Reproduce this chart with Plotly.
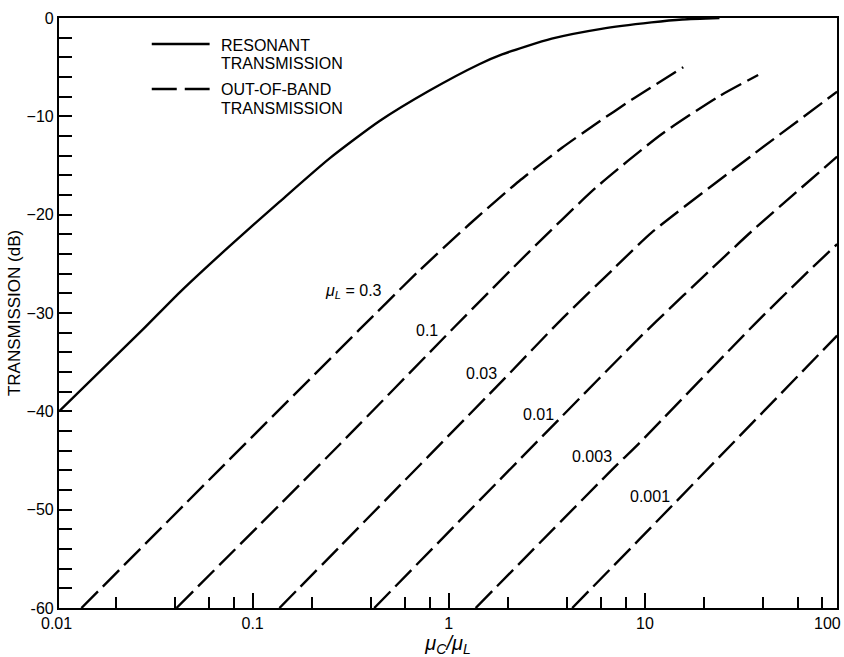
import math
import plotly.graph_objects as go

# ---------------- data ----------------
res_x = [0.0103, 0.0275, 0.0425, 0.0763, 0.137, 0.246, 0.442, 0.794, 1.43, 1.87, 3.35, 6.0, 10.8, 15.5, 24.0]
res_y = [-40.0, -31.7, -27.9, -23.2, -18.7, -14.3, -10.5, -7.4, -4.7, -3.7, -2.1, -1.1, -0.45, -0.15, 0.0]

mu_l_labels = ["0.3", "0.1", "0.03", "0.01", "0.003", "0.001"]

oob_x = [
    [0.0134, 0.0679, 0.350, 0.706, 1.27, 2.28, 3.78, 5.59, 8.59, 15.7],
    [0.0409, 0.277, 1.085, 2.56, 5.59, 12.2, 23.7, 37.8],
    [0.137, 0.277, 1.874, 3.78, 6.93, 10.85, 35.0, 95.5],
    [0.417, 3.78, 9.29, 11.5, 21.1, 35.0, 95.5],
    [1.371, 7.07, 9.29, 36.4, 67.9, 95.5],
    [4.26, 9.29, 95.5],
]
oob_y = [
    [-60.0, -45.9, -31.7, -25.7, -21.0, -16.6, -13.2, -10.8, -8.3, -5.0],
    [-60.0, -43.4, -31.3, -23.8, -17.3, -11.8, -8.0, -5.8],
    [-60.0, -53.8, -36.9, -30.6, -25.5, -21.8, -14.0, -7.5],
    [-60.0, -40.5, -32.6, -30.8, -25.8, -21.7, -14.1],
    [-60.0, -45.6, -43.3, -31.1, -25.8, -23.0],
    [-60.0, -53.1, -32.3],
]

x_major = [0.1, 1, 10]
x_major_text = ["0.1", "1", "10"]
x_minor = [0.02, 0.04, 0.06, 0.08, 0.2, 0.4, 0.6, 0.8, 2, 4, 6, 8, 20, 40, 60, 80]
y_major = [0, -10, -20, -30, -40, -50, -60]
y_major_text = ["0", "\u221210", "\u221220", "\u221230", "\u221240", "\u221250", "-60"]
y_minor = [v for v in range(-58, 0, 2) if v % 10 != 0]

# label anchor points for the curves (data coordinates)
label_x = [0.326, 0.778, 1.472, 2.857, 5.37, 10.66]
label_y = [-27.8, -31.8, -36.2, -40.3, -44.6, -48.7]

FONT = "Liberation Sans, Arial, Helvetica, sans-serif"

fig = go.Figure()

fig.add_trace(go.Scatter(
    x=res_x, y=res_y, mode="lines",
    line=dict(color="black", width=2.4, shape="spline", smoothing=0.6),
    showlegend=False, hoverinfo="skip"))

for xs, ys in zip(oob_x, oob_y):
    fig.add_trace(go.Scatter(
        x=xs, y=ys, mode="lines",
        line=dict(color="black", width=2.4, dash="23px,7px", shape="spline", smoothing=0.6),
        showlegend=False, hoverinfo="skip"))

annotations = []
for i, (lx, ly, t) in enumerate(zip(label_x, label_y, mu_l_labels)):
    txt = ("<i>\u03bc<sub>L</sub></i> = " + t) if i == 0 else t
    annotations.append(dict(x=math.log10(lx), y=ly, xref="x", yref="y", text=txt, showarrow=False,
                            font=dict(family=FONT, size=16, color="black"),
                            xanchor="center", yanchor="middle"))

# end tick labels for the log axis (0.01 and 100 sit at the very edges)
annotations.append(dict(x=-0.0032, y=-0.027, xref="paper", yref="paper", text="0.01",
                        showarrow=False, font=dict(family=FONT, size=16, color="black"),
                        xanchor="center", yanchor="middle"))
annotations.append(dict(x=0.988, y=-0.027, xref="paper", yref="paper", text="100",
                        showarrow=False, font=dict(family=FONT, size=16, color="black"),
                        xanchor="center", yanchor="middle"))

# legend texts
leg_font = dict(family=FONT, size=16, color="black")
for txt, py in [("RESONANT", 45), ("TRANSMISSION", 63), ("OUT-OF-BAND", 90), ("TRANSMISSION", 108)]:
    annotations.append(dict(x=(219 - 59) / 780, y=1 - (py - 18) / 590, xref="paper", yref="paper",
                            text=txt, showarrow=False, font=leg_font,
                            xanchor="left", yanchor="middle"))

shapes = [
    dict(type="line", xref="paper", yref="paper", x0=(152 - 59) / 780, x1=(210 - 59) / 780,
         y0=1 - (44 - 18) / 590, y1=1 - (44 - 18) / 590, line=dict(color="black", width=2.4)),
    dict(type="line", xref="paper", yref="paper", x0=(152 - 59) / 780, x1=(210 - 59) / 780,
         y0=1 - (89 - 18) / 590, y1=1 - (89 - 18) / 590,
         line=dict(color="black", width=2.4, dash="25px,8px")),
]

fig.update_layout(
    width=844, height=657,
    margin=dict(l=59, r=5, t=18, b=49),
    paper_bgcolor="white", plot_bgcolor="white",
    font=dict(family=FONT, size=16, color="black"),
    annotations=annotations, shapes=shapes,
    showlegend=False,
)

fig.update_xaxes(
    type="log", range=[-1.9872, 1.9795],
    tickmode="array", tickvals=x_major, ticktext=x_major_text,
    ticks="inside", ticklen=15, tickwidth=1.6, tickcolor="black",
    minor=dict(tickmode="array", tickvals=x_minor, ticks="inside", ticklen=11,
               tickwidth=1.6, tickcolor="black", showgrid=False),
    showgrid=False, zeroline=False,
    showline=True, linecolor="black", linewidth=2.2, mirror=True,
    tickfont=dict(family=FONT, size=16),
    title=dict(text="<i>\u03bc<sub>C</sub>/\u03bc<sub>L</sub></i>", font=dict(family=FONT, size=20),
               standoff=4),
)

fig.update_yaxes(
    range=[-60, 0],
    tickmode="array", tickvals=y_major, ticktext=y_major_text,
    ticks="inside", ticklen=13, tickwidth=1.6, tickcolor="black",
    minor=dict(tickmode="array", tickvals=y_minor, ticks="inside", ticklen=13,
               tickwidth=1.6, tickcolor="black", showgrid=False),
    showgrid=False, zeroline=False,
    showline=True, linecolor="black", linewidth=2.2, mirror=True,
    tickfont=dict(family=FONT, size=16),
    title=dict(text="TRANSMISSION (dB)", font=dict(family=FONT, size=17), standoff=2),
)

fig.write_html("out.html")
